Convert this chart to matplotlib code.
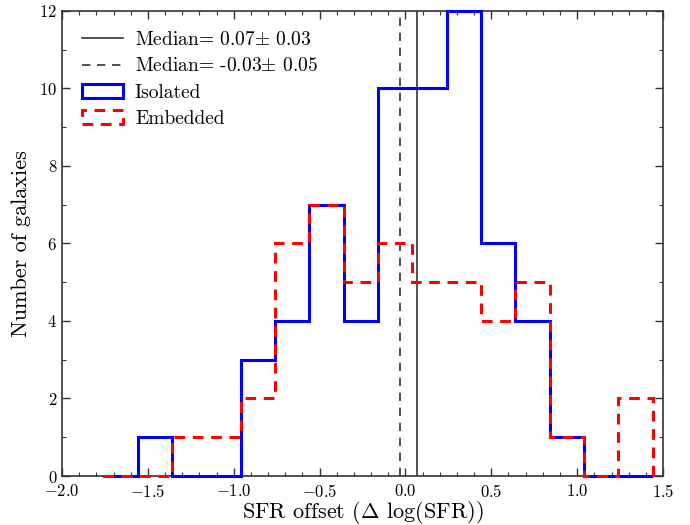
"""SFR offset histogram: isolated vs embedded galaxies."""

import matplotlib
matplotlib.use("Agg")
import matplotlib.pyplot as plt
import numpy as np
from matplotlib.ticker import MultipleLocator

# bin edges (width 0.2) and counts
bin_edges = [-1.76, -1.56, -1.36, -1.16, -0.96, -0.76, -0.56, -0.36, -0.16,
             0.04, 0.24, 0.44, 0.64, 0.84, 1.04, 1.24, 1.44]
isolated_counts = [0, 1, 0, 0, 3, 4, 7, 4, 10, 10, 12, 6, 4, 1, 0, 0]
embedded_counts = [0, 0, 1, 1, 2, 6, 7, 5, 6, 5, 5, 4, 5, 1, 0, 2]
median_isolated = 0.07
median_embedded = -0.03

plt.rcParams["font.family"] = "serif"
plt.rcParams["font.serif"] = ["cmr10"]
plt.rcParams["mathtext.fontset"] = "cm"
plt.rcParams["axes.formatter.use_mathtext"] = True
plt.rcParams["axes.unicode_minus"] = True


def main() -> None:
    fig = plt.figure(figsize=(6.9, 5.25), dpi=100)
    ax = fig.add_axes([0.0899, 0.0933, 0.871, 0.886])

    l1 = ax.axvline(median_isolated, color="#333333", lw=1.2, ls="-",
                    label=r"Median= 0.07$\pm$ 0.03")
    l2 = ax.axvline(median_embedded, color="#333333", lw=1.2, ls=(0, (5, 4)),
                    label=r"Median= -0.03$\pm$ 0.05")

    centers = (np.array(bin_edges[:-1]) + np.array(bin_edges[1:])) / 2
    _, _, p1 = ax.hist(centers, bins=bin_edges, weights=isolated_counts,
                       histtype="step", color="blue", lw=2.2, label="Isolated")
    _, _, p2 = ax.hist(centers, bins=bin_edges, weights=embedded_counts,
                       histtype="step", color="red", lw=2.2, ls=(0, (3.5, 2.5)),
                       label="Embedded")
    for p in (p1[0], p2[0]):
        p.set_clip_on(False)
        p.set_zorder(3)

    ax.set_xlim(-2.0, 1.5)
    ax.set_ylim(0, 12)
    ax.xaxis.set_major_locator(MultipleLocator(0.5))
    ax.xaxis.set_minor_locator(MultipleLocator(0.1))
    ax.yaxis.set_major_locator(MultipleLocator(2))
    ax.yaxis.set_minor_locator(MultipleLocator(1))
    ax.tick_params(which="both", direction="in", top=True, right=True,
                   labelsize=12, color="#333333")
    ax.tick_params(axis="x", pad=5)
    ax.tick_params(which="major", length=6, width=1)
    ax.tick_params(which="minor", length=3, width=0.8)
    for s in ax.spines.values():
        s.set_color("#333333")
        s.set_linewidth(1.2)

    ax.set_xlabel(r"SFR offset ($\Delta$ log(SFR))", fontsize=16, labelpad=-1)
    ax.set_ylabel("Number of galaxies", fontsize=16, labelpad=6)

    ax.legend(handles=[l1, l2, p1[0], p2[0]], loc="upper left", frameon=False,
              fontsize=14, handlelength=2.1, handletextpad=0.6,
              labelspacing=0.42, borderaxespad=0.65)

    fig.savefig("out.png", dpi=100)
    plt.close(fig)


if __name__ == "__main__":
    main()
